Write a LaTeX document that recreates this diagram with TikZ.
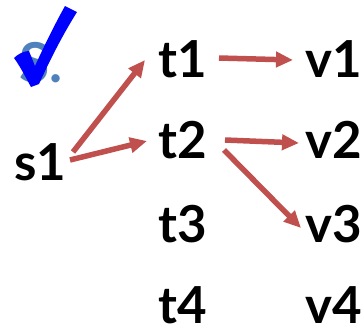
\documentclass[tikz,border=0pt]{standalone}
\usepackage{fontspec}
\setmainfont{Lato}
\usetikzlibrary{arrows.meta,calc}
\definecolor{arrowred}{RGB}{192,80,77}
\definecolor{sblue}{RGB}{79,129,189}
\definecolor{checkblue}{RGB}{0,0,255}
\begin{document}
\begin{tikzpicture}[x=1pt,y=-1pt,
  lbl/.style={anchor=base west,inner sep=0pt,font=\fontsize{51}{51}\selectfont\bfseries},
  arr/.style={draw=arrowred,line width=5.5pt,-{Triangle[width=15pt,length=17pt]},arrowred}]
\useasboundingbox (0,0) rectangle (364,327);
% faded label behind the check
\node[anchor=base west,inner sep=0pt,text=sblue,font=\fontsize{55}{55}\selectfont\bfseries] (sdot) at (19,82) {S.};
% check mark
\fill[checkblue] (14,58) .. controls (18,54) and (24,51) .. (29,51)
  -- (35,66) .. controls (45,44) and (55,24) .. (65,6)
  -- (77,12) .. controls (62,36) and (50,60) .. (39,84)
  -- (31,87) .. controls (26,78) and (20,66) .. cycle;
% labels
\node[lbl] (s1) at (14,180) {s1};
\node[lbl] (t1) at (158,77) {t1};
\node[lbl] (t2) at (158,158) {t2};
\node[lbl] (t3) at (158,242) {t3};
\node[lbl] (t4) at (158,323) {t4};
\node[lbl] (v1) at (305,77) {v1};
\node[lbl] (v2) at (305,158) {v2};
\node[lbl] (v3) at (305,242) {v3};
\node[lbl] (v4) at (305,323) {v4};
% arrows
\draw[arr] ($(s1.base west)+(59,-28)$) -- ($(t1.base west)+(-13,-17)$);
\draw[arr] ($(s1.base west)+(56,-20)$) -- ($(t2.base west)+(-11,-17)$);
\draw[arr] ($(t1.base west)+(61,-19)$) -- ($(v1.base west)+(-12,-17)$);
\draw[arr] ($(t2.base west)+(67,-18)$) -- ($(v2.base west)+(-6,-15)$);
\draw[arr] ($(t2.base west)+(66,-8)$) -- ($(v3.base west)+(-4,-14)$);
\end{tikzpicture}
\end{document}
